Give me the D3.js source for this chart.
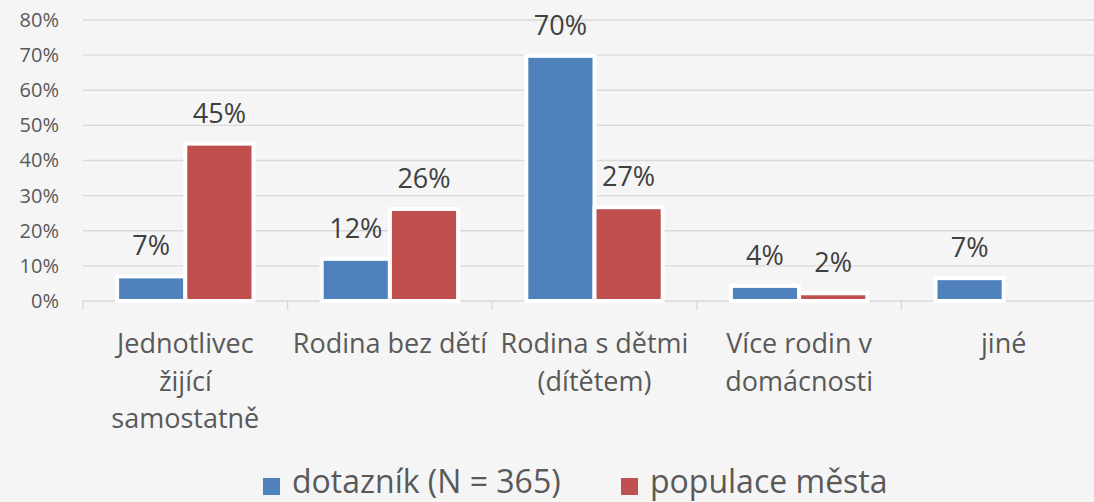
<!DOCTYPE html>
<html>
<head>
<meta charset="utf-8">
<script src="https://cdn.jsdelivr.net/npm/d3@7"></script>
<style>
  html, body { margin: 0; padding: 0; background: #f5f5f5; overflow: hidden; }
  svg { display: block; font-family: 'Open Sans', sans-serif; }
</style>
</head>
<body>
<svg id="chart"></svg>
<script>
// categories ('\n' marks where the label wraps)
const categories = [
  'Jednotlivec\nžijící\nsamostatně',
  'Rodina bez dětí',
  'Rodina s dětmi\n(dítětem)',
  'Více rodin v\ndomácnosti',
  'jiné'
];
const seriesNames = ['dotazník (N = 365)', 'populace města'];
const dotaznik = [7.0, 12.0, 69.8, 4.3, 6.5];
const populace = [44.8, 26.2, 26.7, 2.2, null];
const yTicks = [0, 10, 20, 30, 40, 50, 60, 70, 80];

(function () {
  'use strict';

  const W = 1094, H = 502;
  const colors = ['#4f81bd', '#c0504d'];
  const margin = {left: 83, top: 20};
  const plotW = 1023; // runs past the right edge like the source crop
  const plotH = 281;

  const svg = d3.select('#chart').attr('width', W).attr('height', H);
  svg.append('rect').attr('width', W).attr('height', H).attr('fill', '#f5f5f5');

  const g = svg.append('g').attr('transform', `translate(${margin.left},${margin.top})`);

  const x = d3.scaleBand().domain(d3.range(categories.length)).range([0, plotW]);
  const xInner = d3.scaleBand().domain([0, 1])
    .range([x.bandwidth() / 6, x.bandwidth() * 5 / 6]);
  const y = d3.scaleLinear().domain([0, 80]).range([plotH, 0]);

  // gridlines
  g.append('g')
    .selectAll('line')
    .data(yTicks)
    .join('line')
    .attr('x1', 0).attr('x2', plotW)
    .attr('y1', d => y(d)).attr('y2', d => y(d))
    .attr('stroke', '#d9d9d9').attr('stroke-width', 1.3);

  // y axis labels
  const yAxis = g.append('g')
    .call(d3.axisLeft(y).tickValues(yTicks).tickSize(0).tickPadding(24).tickFormat(d => d + '%'));
  yAxis.select('.domain').remove();
  yAxis.selectAll('text')
    .attr('font-size', 20).attr('fill', '#595959').attr('font-family', 'Open Sans, sans-serif');

  // category tick marks
  g.append('g')
    .selectAll('line')
    .data(d3.range(categories.length + 1))
    .join('line')
    .attr('x1', d => d * x.step()).attr('x2', d => d * x.step())
    .attr('y1', plotH).attr('y2', plotH + 9)
    .attr('stroke', '#d9d9d9').attr('stroke-width', 1.3);

  // bars
  const series = [dotaznik, populace];
  const groups = g.append('g')
    .selectAll('g')
    .data(categories.map((c, i) => i))
    .join('g')
    .attr('transform', i => `translate(${x(i)},0)`);

  groups.selectAll('rect')
    .data(i => series.map((s, k) => ({k: k, v: s[i]})).filter(d => d.v != null))
    .join('rect')
    .attr('x', d => xInner(d.k))
    .attr('width', xInner.bandwidth())
    .attr('y', d => y(d.v))
    .attr('height', d => y(0) - y(d.v))
    .attr('fill', d => colors[d.k])
    .attr('stroke', '#ffffff')
    .attr('stroke-width', 4);

  groups.selectAll('text')
    .data(i => series.map((s, k) => ({k: k, v: s[i]})).filter(d => d.v != null))
    .join('text')
    .attr('x', d => xInner(d.k) + xInner.bandwidth() / 2)
    .attr('y', d => y(d.v) - 21)
    .attr('text-anchor', 'middle')
    .attr('font-size', 27)
    .attr('fill', '#404040')
    .text(d => Math.round(d.v) + '%');

  // category labels
  const catLabels = g.append('g')
    .selectAll('text')
    .data(categories)
    .join('text')
    .attr('text-anchor', 'middle')
    .attr('font-size', 27)
    .attr('fill', '#595959')
    .attr('transform', (d, i) => `translate(${x(i) + x.bandwidth() / 2},${plotH + 52})`);
  catLabels.selectAll('tspan')
    .data(d => d.split('\n'))
    .join('tspan')
    .attr('x', 0)
    .attr('y', (d, j) => j * 37.7)
    .text(d => d);

  // legend
  const legend = svg.append('g');
  const legendX = [263, 621];
  seriesNames.forEach((name, k) => {
    const lg = legend.append('g').attr('transform', `translate(${legendX[k]},478)`);
    lg.append('rect')
      .attr('width', 17).attr('height', 17)
      .attr('fill', colors[k]);
    lg.append('text')
      .attr('x', 29).attr('y', 15)
      .attr('font-size', 32)
      .attr('fill', '#595959')
      .text(name);
  });
}());
</script>
</body>
</html>
